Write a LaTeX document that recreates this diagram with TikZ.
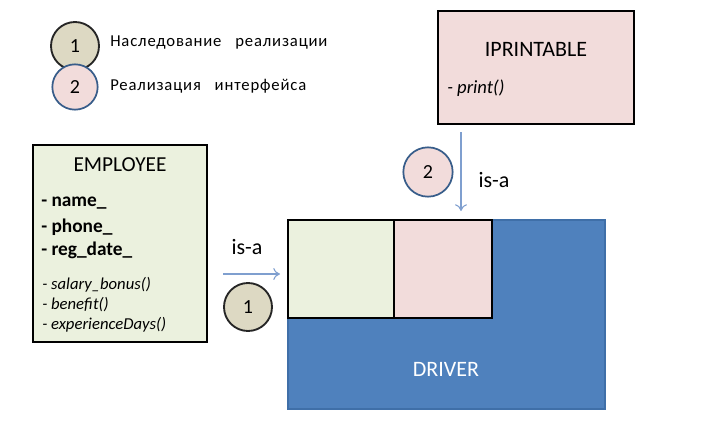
\documentclass[tikz,border=0pt]{standalone}
\usepackage{fontspec}
\setmainfont{Carlito}
\usetikzlibrary{arrows.meta}

\definecolor{empfill}{HTML}{EBF1DE}
\definecolor{ifcfill}{HTML}{F2DCDB}
\definecolor{drvfill}{HTML}{4F81BD}
\definecolor{drvline}{HTML}{3F6FA8}
\definecolor{tanfill}{HTML}{DDD9C3}
\definecolor{arrowcol}{HTML}{7F9FCF}
\definecolor{ringcol}{HTML}{385D8A}

\tikzset{
  classbox/.style={draw=black, line width=1.5pt, inner sep=0pt},
  mark1/.style={circle, draw=black!85, line width=1.4pt, fill=tanfill, minimum size=36, inner sep=0pt, font=\fontsize{15}{18}\selectfont},
  mark2/.style={circle, draw=ringcol, line width=1.3pt, fill=ifcfill, minimum size=34, inner sep=0pt, font=\fontsize{15}{18}\selectfont},
  isa/.style={->, >={To[length=5pt,width=9pt]}, draw=arrowcol, line width=0.8pt},
  legendtext/.style={anchor=west, inner sep=0pt, font=\fontsize{12.5}{15}\selectfont\addfontfeature{LetterSpace=5}}
}

\begin{document}
\begin{tikzpicture}[x=0.75pt, y=-0.75pt]
  \useasboundingbox (0,0) rectangle (711,425);

  % legend
  \node[mark1] (leg1) at (75,46) {1};
  \node[mark2] (leg2) at (75,87) {2};
  \node[legendtext] (legtext1) at (110,43) {Наследование \ \ реализации};
  \node[legendtext] (legtext2) at (110,86) {Реализация \ \ интерфейса};

  % EMPLOYEE
  \node[classbox, fill=empfill, minimum width=174*0.75pt, minimum height=197*0.75pt] (employee) at (120,243.5) {};
  \node[font=\fontsize{16}{19}\selectfont] (emptitle) at (120,165) {EMPLOYEE};
  \node[anchor=west, inner sep=0pt, font=\fontsize{14.5}{17}\selectfont\bfseries] (fname) at (41,203) {- name\_};
  \node[anchor=west, inner sep=0pt, font=\fontsize{14.5}{17}\selectfont\bfseries] (fphone) at (41,227) {- phone\_};
  \node[anchor=west, inner sep=0pt, font=\fontsize{14.5}{17}\selectfont\bfseries] (fdate) at (41,250) {- reg\_date\_};
  \node[anchor=west, inner sep=0pt, font=\fontsize{12.5}{15}\selectfont\itshape] (msalary) at (42,285) {- salary\_bonus()};
  \node[anchor=west, inner sep=0pt, font=\fontsize{12.5}{15}\selectfont\itshape] (mbenefit) at (42,305) {- bene{}fit()};
  \node[anchor=west, inner sep=0pt, font=\fontsize{12.5}{15}\selectfont\itshape] (mdays) at (42,325) {- experienceDays()};

  % IPRINTABLE
  \node[classbox, fill=ifcfill, minimum width=196*0.75pt, minimum height=113*0.75pt] (iprintable) at (536,67.5) {};
  \node[font=\fontsize{16.5}{19}\selectfont] (ifctitle) at (536,49) {IPRINTABLE};
  \node[anchor=west, inner sep=0pt, font=\fontsize{14}{17}\selectfont\itshape] (mprint) at (447,88) {- print()};

  % DRIVER
  \node[draw=drvline, line width=1pt, fill=drvfill, minimum width=317*0.75pt, minimum height=189*0.75pt, inner sep=0pt] (driver) at (446.5,314.5) {};
  \node[classbox, fill=empfill, minimum width=106*0.75pt, minimum height=98*0.75pt] (inherit) at (341,269) {};
  \node[classbox, fill=ifcfill, minimum width=98*0.75pt, minimum height=98*0.75pt] (implement) at (443,269) {};
  \node[text=white, font=\fontsize{16.5}{19}\selectfont] (drvtitle) at (446,369) {DRIVER};

  % relations
  \coordinate (row1) at (0,274);
  \coordinate (col2) at (461,0);
  \draw[isa, shorten <=15*0.75pt, shorten >=7*0.75pt] (employee.east |- row1) -- (inherit.west |- row1);
  \draw[isa, shorten <=7*0.75pt, shorten >=8*0.75pt] (iprintable.south -| col2) -- (implement.north -| col2);
  \node[font=\fontsize{16.5}{19}\selectfont] (isa1) at (247,247) {is-a};
  \node[font=\fontsize{16.5}{19}\selectfont] (isa2) at (494,180) {is-a};
  \node[mark1] (num1) at (248,307) {1};
  \node[mark2, minimum size=37] (num2) at (428,172) {2};
\end{tikzpicture}
\end{document}
